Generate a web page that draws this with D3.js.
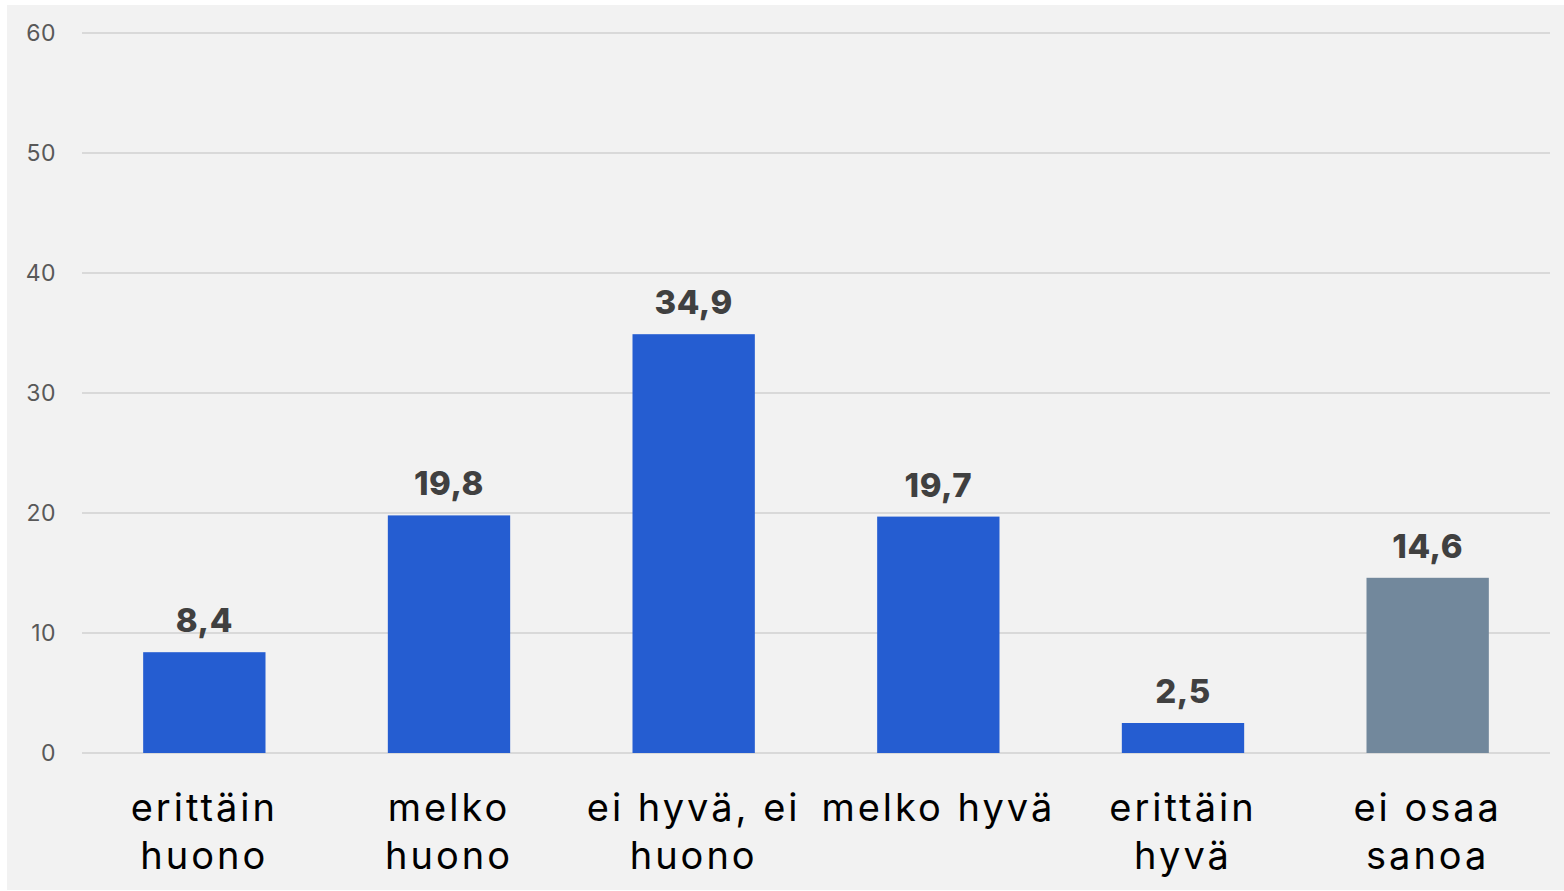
<!DOCTYPE html>
<html>
<head>
<meta charset="utf-8">
<script src="https://cdn.jsdelivr.net/npm/d3@7"></script>
<style>
  html, body { margin: 0; padding: 0; background: #ffffff; }
  svg { display: block; }
</style>
</head>
<body>
<svg id="chart" width="1564" height="891"></svg>
<script>
const categories = ["erittäin huono", "melko huono", "ei hyvä, ei huono", "melko hyvä", "erittäin hyvä", "ei osaa sanoa"];
const values = [8.4, 19.8, 34.9, 19.7, 2.5, 14.6];
const barColors = ["#255dd1", "#255dd1", "#255dd1", "#255dd1", "#255dd1", "#72889c"];
const yTicks = [0, 10, 20, 30, 40, 50, 60];

const svg = d3.select("#chart");
const W = 1564, H = 891;

svg.append("rect").attr("x", 7).attr("y", 5).attr("width", W - 7).attr("height", 885).attr("fill", "#f2f2f2");

const x = d3.scaleBand().domain(categories).range([82, 1550]).paddingInner(0.5).paddingOuter(0.25);
const y = d3.scaleLinear().domain([0, 60]).range([753, 33]);

// gridlines
svg.append("g").selectAll("line").data(yTicks).join("line")
  .attr("x1", 82).attr("x2", 1550)
  .attr("y1", d => y(d)).attr("y2", d => y(d))
  .attr("stroke", "#d9d9d9").attr("stroke-width", 2);

// y tick labels
svg.append("g").selectAll("text").data(yTicks).join("text")
  .attr("x", 56).attr("y", d => y(d)).attr("dy", "0.36em")
  .attr("text-anchor", "end")
  .attr("font-family", "Inter, 'Noto Sans', sans-serif")
  .attr("font-size", 23).attr("letter-spacing", "0.5px").attr("fill", "#595959")
  .text(d => d);

// bars
svg.append("g").selectAll("rect").data(values).join("rect")
  .attr("x", (d, i) => x(categories[i]))
  .attr("width", x.bandwidth())
  .attr("y", d => y(d))
  .attr("height", d => y(0) - y(d))
  .attr("fill", (d, i) => barColors[i]);

// value labels
svg.append("g").selectAll("text").data(values).join("text")
  .attr("x", (d, i) => x(categories[i]) + x.bandwidth() / 2)
  .attr("y", d => y(d) - 20)
  .attr("text-anchor", "middle")
  .attr("font-family", "Inter, 'Noto Sans', sans-serif")
  .attr("font-weight", 800)
  .attr("font-size", 33).attr("letter-spacing", "0.5px").attr("fill", "#404040")
  .text(d => d.toFixed(1).replace(".", ","));

// category labels with wrapping
const catG = svg.append("g");
categories.forEach(c => {
  const cx = x(c) + x.bandwidth() / 2;
  const t = catG.append("text")
    .attr("x", cx).attr("y", 821)
    .attr("text-anchor", "middle")
    .attr("font-family", "Inter, 'Noto Sans', sans-serif")
    .attr("font-size", 38).attr("letter-spacing", "3px")
    .attr("fill", "#000000");
  const words = c.split(" ");
  let line = [];
  let tspan = t.append("tspan").attr("x", cx).attr("dy", 0);
  const maxW = 242;
  words.forEach(w => {
    line.push(w);
    tspan.text(line.join(" "));
    if (tspan.node().getComputedTextLength() > maxW && line.length > 1) {
      line.pop();
      tspan.text(line.join(" "));
      line = [w];
      tspan = t.append("tspan").attr("x", cx).attr("dy", 48).text(w);
    }
  });
});
</script>
</body>
</html>
